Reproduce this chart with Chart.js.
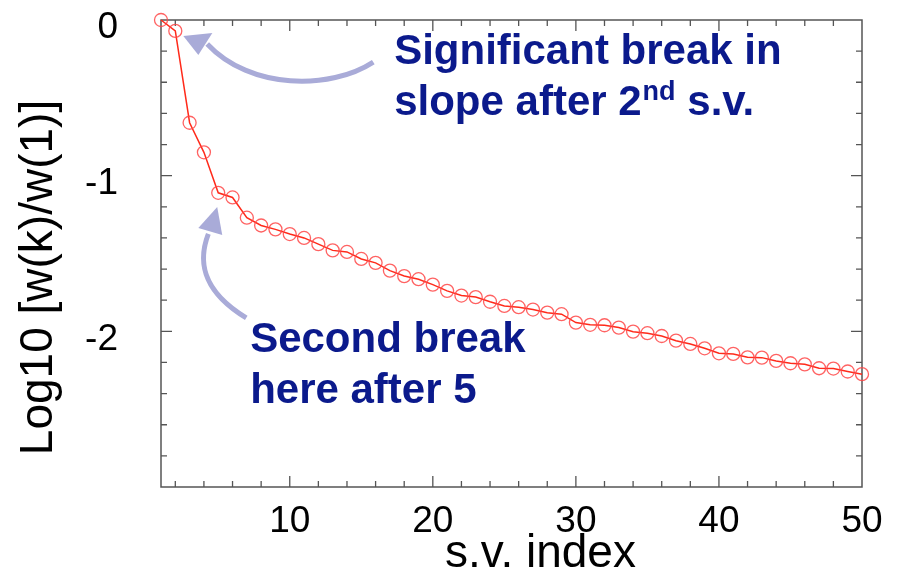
<!DOCTYPE html>
<html>
<head>
<meta charset="utf-8">
<script src="https://cdn.jsdelivr.net/npm/chart.js@4"></script>
<style>
  body { margin: 0; background: #fff; }
  #chart { display: block; }
</style>
</head>
<body>
<canvas id="chart" width="910" height="575"></canvas>
<script>
// singular value index (x)
const svIndex = [1, 2, 3, 4, 5, 6, 7, 8, 9, 10,
  11, 12, 13, 14, 15, 16, 17, 18, 19, 20,
  21, 22, 23, 24, 25, 26, 27, 28, 29, 30,
  31, 32, 33, 34, 35, 36, 37, 38, 39, 40,
  41, 42, 43, 44, 45, 46, 47, 48, 49, 50];

// log10 of w(k)/w(1)
const logRatio = [0, -0.07, -0.66, -0.85, -1.11, -1.14, -1.27, -1.32, -1.345, -1.375,
  -1.40, -1.44, -1.48, -1.49, -1.535, -1.56, -1.61, -1.645, -1.665, -1.70,
  -1.74, -1.77, -1.78, -1.81, -1.837, -1.845, -1.86, -1.88, -1.89, -1.944,
  -1.958, -1.961, -1.976, -2.002, -2.012, -2.03, -2.06, -2.081, -2.109, -2.141,
  -2.145, -2.167, -2.169, -2.19, -2.205, -2.212, -2.237, -2.239, -2.258, -2.275];

const xTickLabels = [10, 20, 30, 40, 50];
const yTickLabels = [0, -1, -2];

const FONT = '"Liberation Sans", Arial, Helvetica, sans-serif';
const NOTE_COLOR = '#0b1a8c';
const ARROW_COLOR = '#a9abd8';

// annotation geometry, in data units (x = s.v. index, y = log10 ratio)
const arrow1 = {
  path: [[15.84, -0.27], [12.83, -0.45], [7.24, -0.45], [4.23, -0.154]],
  head: [[2.56, -0.103], [4.59, -0.083], [3.61, -0.225]]
};
const arrow2 = {
  path: [[6.96, -1.914], [3.75, -1.734], [3.61, -1.541], [4.31, -1.374]],
  head: [[4.93, -1.201], [3.61, -1.336], [5.28, -1.381]]
};

// frame, inward ticks, axis titles and notes
const decorPlugin = {
  id: 'decor',
  beforeDatasetsDraw(chart) {
    const ctx = chart.ctx;
    const a = chart.chartArea;
    const xs = chart.scales.x, ys = chart.scales.y;
    ctx.save();
    ctx.strokeStyle = '#555';
    ctx.lineWidth = 1.5;
    ctx.strokeRect(a.left, a.top, a.right - a.left, a.bottom - a.top);
    ctx.lineWidth = 1.3;
    ctx.beginPath();
    for (let v = 2; v < 50; v += 2) {
      let len = (v % 10 === 0) ? 11 : 6;
      let px = xs.getPixelForValue(v);
      ctx.moveTo(px, a.bottom); ctx.lineTo(px, a.bottom - len);
      ctx.moveTo(px, a.top); ctx.lineTo(px, a.top + len);
    }
    for (let i = 1; i < 15; i++) {
      let v = -i * 0.2;
      let len = (i % 5 === 0) ? 11 : 6;
      let py = ys.getPixelForValue(v);
      ctx.moveTo(a.left, py); ctx.lineTo(a.left + len, py);
      ctx.moveTo(a.right, py); ctx.lineTo(a.right - len, py);
    }
    ctx.stroke();
    ctx.restore();
  },
  afterDraw(chart) {
    const ctx = chart.ctx;
    const a = chart.chartArea;
    const xs = chart.scales.x, ys = chart.scales.y;
    const P = (p) => [xs.getPixelForValue(p[0]), ys.getPixelForValue(p[1])];

    ctx.save();
    // axis titles
    ctx.fillStyle = '#000';
    ctx.font = '46px ' + FONT;
    ctx.textAlign = 'center';
    ctx.textBaseline = 'alphabetic';
    ctx.fillText('s.v. index', (a.left + a.right) / 2 + 29, a.bottom + 80);
    ctx.save();
    ctx.translate(52, (a.top + a.bottom) / 2 + 24);
    ctx.rotate(-Math.PI / 2);
    ctx.fillText('Log10 [w(k)/w(1)]', 0, 0);
    ctx.restore();

    // arrows
    [arrow1, arrow2].forEach(function(ar) {
      let p = ar.path.map(P);
      ctx.strokeStyle = ARROW_COLOR;
      ctx.lineWidth = 5;
      ctx.lineCap = 'butt';
      ctx.beginPath();
      ctx.moveTo(p[0][0], p[0][1]);
      ctx.bezierCurveTo(p[1][0], p[1][1], p[2][0], p[2][1], p[3][0], p[3][1]);
      ctx.stroke();
      let h = ar.head.map(P);
      ctx.fillStyle = ARROW_COLOR;
      ctx.beginPath();
      ctx.moveTo(h[0][0], h[0][1]);
      ctx.lineTo(h[1][0], h[1][1]);
      ctx.lineTo(h[2][0], h[2][1]);
      ctx.closePath();
      ctx.fill();
    });

    // notes
    ctx.fillStyle = NOTE_COLOR;
    ctx.textAlign = 'left';
    ctx.textBaseline = 'alphabetic';
    ctx.font = 'bold 42px ' + FONT;
    let t1 = P([17.30, -0.283]);
    ctx.fillText('Significant break in', t1[0], t1[1]);
    let t2 = P([17.30, -0.610]);
    let part = 'slope after 2';
    ctx.fillText(part, t2[0], t2[1]);
    let w = ctx.measureText(part).width;
    ctx.font = 'bold 27px ' + FONT;
    ctx.fillText('nd', t2[0] + w + 1, t2[1] - 15);
    let w2 = ctx.measureText('nd').width;
    ctx.font = 'bold 42px ' + FONT;
    ctx.fillText(' s.v.', t2[0] + w + 1 + w2, t2[1]);
    let t3 = P([7.23, -2.132]);
    ctx.fillText('Second break', t3[0], t3[1]);
    let t4 = P([7.23, -2.460]);
    ctx.fillText('here after 5', t4[0], t4[1]);
    ctx.restore();
  }
};

const ctx = document.getElementById('chart');
new Chart(ctx, {
  type: 'line',
  data: {
    labels: svIndex,
    datasets: [{
      data: svIndex.map((x, i) => ({ x: x, y: logRatio[i] })),
      borderColor: '#ff2a1a',
      borderWidth: 1.5,
      tension: 0,
      pointRadius: 6.5,
      pointBorderWidth: 1.3,
      pointBorderColor: 'rgba(255, 70, 70, 0.85)',
      pointBackgroundColor: 'rgba(0,0,0,0)',
      clip: false
    }]
  },
  options: {
    responsive: false,
    animation: false,
    events: [],
    layout: { padding: { top: 20, right: 48, bottom: 0, left: 0 } },
    plugins: { legend: { display: false }, tooltip: { enabled: false } },
    scales: {
      x: {
        type: 'linear',
        min: 1,
        max: 50,
        grid: { display: false, drawTicks: false },
        border: { display: false },
        afterBuildTicks: function(scale) {
          scale.ticks = xTickLabels.map(v => ({ value: v }));
        },
        afterFit: function(scale) {
          scale.height = 88;
          scale.paddingLeft = 0;
          scale.paddingRight = 0;
        },
        ticks: {
          color: '#000',
          padding: 16,
          maxRotation: 0,
          font: { family: FONT, size: 37, lineHeight: 1 }
        }
      },
      y: {
        type: 'linear',
        min: -3,
        max: 0,
        grid: { display: false, drawTicks: false },
        border: { display: false },
        afterBuildTicks: function(scale) {
          scale.ticks = yTickLabels.map(v => ({ value: v }));
        },
        afterFit: function(scale) {
          scale.width = 161;
          scale.paddingTop = 0;
          scale.paddingBottom = 0;
        },
        ticks: {
          color: '#000',
          padding: 43,
          labelOffset: 8,
          font: { family: FONT, size: 37, lineHeight: 1 },
          callback: function(v) { return String(v); }
        }
      }
    }
  },
  plugins: [decorPlugin]
});
</script>
</body>
</html>
